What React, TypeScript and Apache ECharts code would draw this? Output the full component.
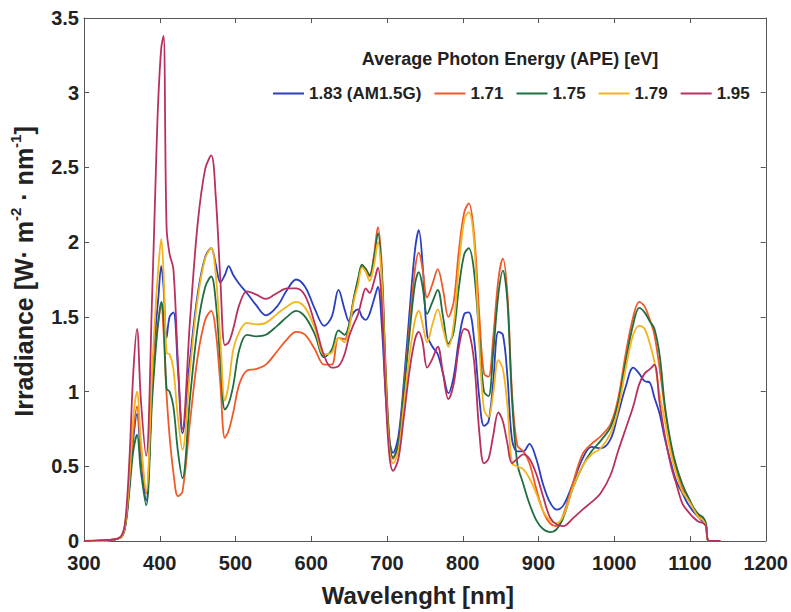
import React, { useEffect, useRef } from "react";
import * as echarts from "echarts";

const wavelengths = [300, 320, 340, 350, 355, 360, 365, 370, 375, 382, 390, 395, 398, 402, 405, 409, 413, 418, 424, 430, 440, 450, 460, 468, 474, 480, 486, 491, 497, 505, 515, 527, 540, 555, 568, 580, 592, 605, 617, 627, 636, 644, 650, 656, 662, 667, 672, 677, 683, 688, 693, 698, 703, 708, 715, 722, 730, 737, 742, 747, 753, 760, 767, 774, 781, 788, 795, 802, 808, 815, 822, 828, 834, 840, 847, 853, 859, 865, 872, 880, 888, 897, 906, 915, 924, 933, 945, 958, 970, 982, 995, 1005, 1015, 1025, 1033, 1040, 1047, 1053, 1060, 1067, 1075, 1082, 1090, 1097, 1104, 1111, 1117, 1121, 1125, 1140];

const ape183 = [0, 0, 0.01, 0.03, 0.12, 0.38, 0.68, 0.85, 0.58, 0.27, 1.05, 1.45, 1.62, 1.84, 1.7, 1.36, 1.5, 1.53, 1.15, 0.72, 1.22, 1.65, 1.9, 1.96, 1.85, 1.73, 1.78, 1.84, 1.78, 1.72, 1.66, 1.58, 1.51, 1.57, 1.68, 1.75, 1.7, 1.55, 1.44, 1.5, 1.68, 1.55, 1.47, 1.53, 1.55, 1.5, 1.48, 1.52, 1.62, 1.7, 1.45, 1.0, 0.68, 0.59, 0.7, 1.05, 1.55, 1.95, 2.08, 1.85, 1.38, 1.3, 1.25, 1.12, 0.99, 1.1, 1.35, 1.52, 1.53, 1.35, 0.95, 0.77, 0.8, 1.05, 1.4, 1.38, 1.1, 0.68, 0.6, 0.6, 0.65, 0.55, 0.38, 0.26, 0.21, 0.24, 0.38, 0.55, 0.63, 0.62, 0.68, 0.85, 1.03, 1.16, 1.12, 1.07, 1.06, 0.96, 0.85, 0.68, 0.52, 0.4, 0.32, 0.25, 0.2, 0.16, 0.13, 0.1, 0, 0];

const ape171 = [0, 0, 0.01, 0.03, 0.12, 0.38, 0.72, 0.9, 0.62, 0.32, 1.0, 1.35, 1.47, 1.58, 1.4, 0.98, 0.7, 0.46, 0.3, 0.33, 0.8, 1.23, 1.48, 1.54, 1.4, 1.05, 0.69, 0.74, 0.86, 1.05, 1.14, 1.15, 1.18, 1.27, 1.35, 1.4, 1.38, 1.28, 1.18, 1.18, 1.36, 1.35, 1.45, 1.62, 1.75, 1.84, 1.82, 1.77, 1.92, 2.1, 1.85, 1.2, 0.7, 0.55, 0.65, 1.0, 1.45, 1.82, 1.93, 1.82, 1.63, 1.72, 1.82, 1.68, 1.5, 1.6, 1.95, 2.2, 2.26, 2.05, 1.5, 1.12, 1.1, 1.35, 1.75, 1.89, 1.65, 1.0, 0.64, 0.6, 0.52, 0.35, 0.2, 0.12, 0.1, 0.18, 0.38, 0.58, 0.65, 0.7, 0.78, 0.95, 1.25, 1.5, 1.6, 1.57, 1.48, 1.38, 1.15, 0.88, 0.62, 0.48, 0.35, 0.3, 0.22, 0.17, 0.15, 0.11, 0, 0];

const ape175 = [0, 0, 0.01, 0.03, 0.11, 0.34, 0.6, 0.71, 0.47, 0.24, 0.95, 1.3, 1.46, 1.6, 1.5, 1.02, 1.0, 0.9, 0.6, 0.42, 0.96, 1.43, 1.7, 1.77, 1.6, 1.2, 0.88, 0.92, 1.04, 1.28, 1.38, 1.37, 1.38, 1.44, 1.5, 1.54, 1.5, 1.38, 1.23, 1.28, 1.41, 1.38, 1.45, 1.62, 1.76, 1.85, 1.82, 1.78, 1.9, 2.06, 1.8, 1.15, 0.68, 0.56, 0.65, 0.98, 1.4, 1.72, 1.8, 1.7, 1.52, 1.6, 1.68, 1.5, 1.32, 1.4, 1.7, 1.92, 1.96, 1.8, 1.35, 1.0, 0.97, 1.25, 1.65, 1.81, 1.6, 0.95, 0.52, 0.38, 0.25, 0.14, 0.08, 0.06, 0.08, 0.16, 0.35, 0.5, 0.6, 0.67, 0.76, 0.92, 1.2, 1.45, 1.56, 1.53, 1.47, 1.42, 1.24, 0.9, 0.65, 0.5, 0.38, 0.3, 0.23, 0.18, 0.16, 0.12, 0, 0];

const ape179 = [0, 0, 0.01, 0.03, 0.13, 0.42, 0.82, 1.0, 0.68, 0.33, 1.15, 1.6, 1.82, 2.02, 1.8, 1.26, 1.25, 1.15, 0.82, 0.61, 1.15, 1.62, 1.89, 1.96, 1.78, 1.35, 0.94, 1.05, 1.28, 1.4, 1.46, 1.45, 1.46, 1.52, 1.57, 1.6, 1.56, 1.42, 1.25, 1.26, 1.36, 1.33, 1.42, 1.6, 1.72, 1.83, 1.8, 1.74, 1.85, 2.0, 1.75, 1.1, 0.62, 0.52, 0.6, 0.9, 1.25, 1.48, 1.54, 1.45, 1.33, 1.45, 1.55, 1.42, 1.3, 1.45, 1.85, 2.15, 2.2, 2.0, 1.3, 0.88, 0.83, 0.98, 1.21, 1.15, 0.9, 0.52, 0.5, 0.48, 0.42, 0.32, 0.2, 0.14, 0.12, 0.17, 0.35, 0.5, 0.58, 0.62, 0.72, 0.88, 1.15, 1.38, 1.44, 1.42, 1.32, 1.2, 0.98, 0.8, 0.58, 0.45, 0.33, 0.28, 0.22, 0.16, 0.14, 0.1, 0, 0];

const ape195 = [0, 0.005, 0.01, 0.04, 0.16, 0.55, 1.12, 1.42, 0.95, 0.57, 1.65, 2.5, 2.95, 3.3, 3.38, 2.1, 1.92, 1.82, 1.2, 0.75, 1.48, 2.12, 2.49, 2.58, 2.3, 1.75, 1.31, 1.33, 1.42, 1.58, 1.67, 1.65, 1.62, 1.66, 1.69, 1.69, 1.64, 1.45, 1.24, 1.16, 1.17, 1.25, 1.37, 1.45, 1.52, 1.62, 1.69, 1.66, 1.74, 1.83, 1.6, 1.0, 0.58, 0.47, 0.55, 0.82, 1.15, 1.35, 1.4, 1.33, 1.16, 1.22, 1.3, 1.12, 0.95, 1.05, 1.3, 1.42, 1.4, 1.2, 0.72, 0.52, 0.55, 0.7, 0.86, 0.8, 0.65, 0.52, 0.55, 0.58, 0.55, 0.45, 0.3, 0.16, 0.11, 0.1, 0.15, 0.21, 0.26, 0.32, 0.44, 0.6, 0.75, 0.9, 1.05, 1.12, 1.15, 1.18, 0.92, 0.7, 0.5, 0.38, 0.25, 0.2, 0.16, 0.13, 0.12, 0.1, 0, 0];

const seriesNames = ["1.83 (AM1.5G)", "1.71", "1.75", "1.79", "1.95"];
const seriesColors = ["#2a3fc0", "#ef5a2a", "#1f6f3f", "#f4b41e", "#b83060"];
const seriesValues = [ape183, ape171, ape175, ape179, ape195];

const xTicks = { min: 300, max: 1200, interval: 100 };
const yTicks = { min: 0, max: 3.5, interval: 0.5 };

const FONT = "Liberation Sans";
const AXIS_COLOR = "#555";
const TEXT_COLOR = "#222";

export default function App() {
  const ref = useRef<HTMLDivElement>(null);
  useEffect(() => {
    if (!ref.current) return;
    const chart = echarts.init(ref.current, null, { renderer: "svg" });
    const axisCommon = {
      type: "value" as const,
      splitLine: { show: false },
      axisLine: { show: true, onZero: false, lineStyle: { color: AXIS_COLOR, width: 1 } },
      axisTick: { show: true, inside: true, length: 5, lineStyle: { color: AXIS_COLOR } },
    };
    const option: any = {
      animation: false,
      backgroundColor: "#fff",
      grid: { left: 83, right: 22, top: 18, bottom: 71, containLabel: false },
      legend: {
        left: 268,
        top: 80,
        icon: "rect",
        itemWidth: 31,
        itemHeight: 2,
        itemGap: 13,
        textStyle: { fontFamily: FONT, fontSize: 17, fontWeight: "bold", color: TEXT_COLOR },
        data: seriesNames,
      },
      graphic: [
        {
          type: "text",
          x: 510,
          y: 59,
          style: {
            text: "Average Photon Energy (APE) [eV]",
            font: `bold 18px "${FONT}"`,
            fill: TEXT_COLOR,
            align: "center",
            verticalAlign: "middle",
            textAlign: "center",
            textVerticalAlign: "middle",
          },
        },
      ],
      xAxis: [
        {
          ...axisCommon,
          position: "bottom",
          min: xTicks.min,
          max: xTicks.max,
          interval: xTicks.interval,
          axisLabel: {
            fontFamily: FONT,
            fontSize: 20,
            fontWeight: "bold",
            color: TEXT_COLOR,
            margin: 12,
            formatter: (v: number) => String(v),
          },
          name: "Wavelenght [nm]",
          nameLocation: "middle",
          nameGap: 42,
          nameTextStyle: { fontFamily: FONT, fontSize: 24, fontWeight: "bold", color: TEXT_COLOR, padding: [0, 14, 0, 0] },
        },
        {
          ...axisCommon,
          position: "top",
          min: xTicks.min,
          max: xTicks.max,
          interval: xTicks.interval,
          axisLabel: { show: false },
        },
      ],
      yAxis: [
        {
          ...axisCommon,
          position: "left",
          min: yTicks.min,
          max: yTicks.max,
          interval: yTicks.interval,
          axisLabel: { fontFamily: FONT, fontSize: 20, fontWeight: "bold", color: TEXT_COLOR, margin: 5 },
          name: "Irradiance [W· m{sup|-2} · nm{sup|-1}]",
          nameLocation: "middle",
          nameGap: 44,
          nameTextStyle: {
            fontFamily: FONT,
            fontSize: 25,
            fontWeight: "bold",
            color: TEXT_COLOR,
            lineHeight: 32,
            padding: [0, 0, 0, 16],
            rich: {
              sup: { fontFamily: FONT, fontSize: 15, fontWeight: "bold", color: TEXT_COLOR, verticalAlign: "top", lineHeight: 16, padding: [0, 0, 14, 0] },
            },
          },
        },
        {
          ...axisCommon,
          position: "right",
          min: yTicks.min,
          max: yTicks.max,
          interval: yTicks.interval,
          axisLabel: { show: false },
        },
      ],
      series: seriesNames.map((name, i) => ({
        name,
        type: "line",
        xAxisIndex: 0,
        yAxisIndex: 0,
        showSymbol: false,
        symbol: "none",
        smooth: 0.35,
        color: seriesColors[i],
        lineStyle: { color: seriesColors[i], width: 1.8 },
        data: wavelengths.map((w, j) => [w, seriesValues[i][j]]),
      })),
    };
    chart.setOption(option);
    return () => chart.dispose();
  }, []);
  return (
    <div
      ref={ref}
      style={{ position: "fixed", left: 0, top: 0, width: 791, height: 612, background: "#fff" }}
    />
  );
}
